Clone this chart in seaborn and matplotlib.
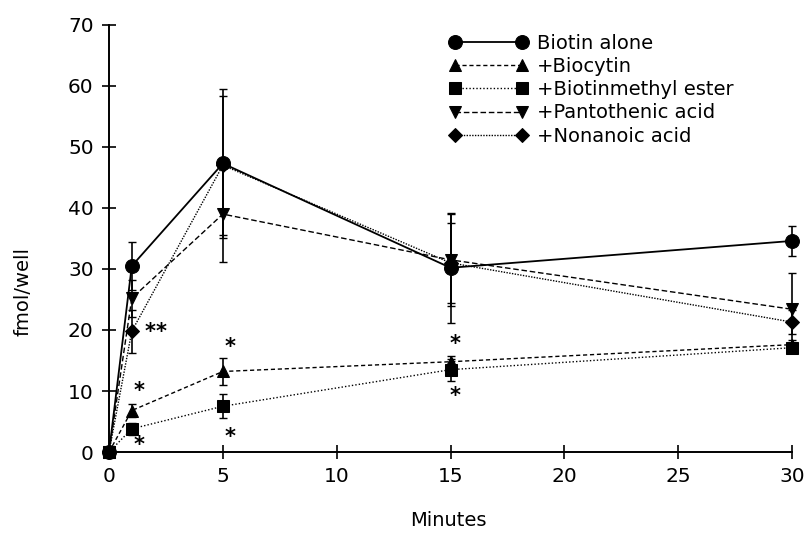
import matplotlib
matplotlib.use("Agg")
import matplotlib.pyplot as plt
import seaborn as sns
import pandas as pd

sns.set_theme(style="ticks")
plt.rcParams['font.family'] = ['DejaVu Sans']
plt.rcParams.update({"text.color": "black", "axes.labelcolor": "black",
                     "xtick.color": "black", "ytick.color": "black"})

minutes = [0, 1, 5, 15, 30]
biotin_alone = [0, 30.5, 47.3, 30.2, 34.6]
biotin_err = [0, 4.0, 12.2, 9.0, 2.5]
biocytin = [0, 6.8, 13.2, 14.8, 17.6]
biocytin_err = [0, 1.0, 2.2, 1.0, 0.8]
methyl_ester = [0, 3.8, 7.5, 13.5, 17.1]
methyl_err = [0, 1.0, 2.0, 1.8, 0.8]
pantothenic = [0, 25.2, 39.0, 31.5, 23.4]
pantothenic_err = [0, 3.0, 7.8, 7.5, 6.0]
nonanoic = [0, 19.8, 47.0, 31.0, 21.3]
nonanoic_err = [0, 3.5, 11.4, 6.5, 2.0]

labels = ["Biotin alone", "+Biocytin", "+Biotinmethyl ester",
          "+Pantothenic acid", "+Nonanoic acid"]
series = [biotin_alone, biocytin, methyl_ester, pantothenic, nonanoic]
errors = [biotin_err, biocytin_err, methyl_err, pantothenic_err, nonanoic_err]
markers = ["o", "^", "s", "v", "D"]
msizes = [10, 8, 9, 8, 7]
linestyles = ["-", (0, (3, 2)), (0, (1, 1.5)), (0, (4, 2)), (0, (1, 1))]
lws = [1.3, 1.0, 1.0, 1.0, 1.0]

asterisk_x = [1.8, 2.3, 1.3, 1.3, 5.3, 5.3, 15.2, 15.2]
asterisk_y = [19.6, 19.6, 10.0, 1.2, 17.2, 2.4, 17.7, 9.2]

fig = plt.figure(figsize=(8.07, 5.36), dpi=100)
ax = fig.add_axes([0.1351, 0.1567, 0.8463, 0.7967])

for lab, y, e, m, ms, ls, lw in zip(labels, series, errors, markers, msizes, linestyles, lws):
    df = pd.DataFrame({"Minutes": minutes, "fmol/well": y})
    eb = ax.errorbar(minutes, y, yerr=e, fmt="none", ecolor="black", elinewidth=1.2,
                     capsize=3, capthick=1.0, zorder=2)
    for art in eb.get_children():
        art.set_clip_on(False)
    sns.lineplot(data=df, x="Minutes", y="fmol/well", ax=ax, color="black",
                 marker=m, markersize=ms, linestyle=ls, linewidth=lw,
                 markeredgecolor="black", label=lab, zorder=3, clip_on=False)

for xa, ya in zip(asterisk_x, asterisk_y):
    ax.text(xa, ya, "*", fontsize=15, fontweight="bold", ha="center", va="center")

ax.set_xlim(0, 30)
ax.set_ylim(0, 70)
ax.set_xticks([0, 5, 10, 15, 20, 25, 30])
ax.set_yticks(range(0, 71, 10))
ax.tick_params(direction="inout", length=10, width=1.2, labelsize=14.5, pad=6)
for s in ["top", "right"]:
    ax.spines[s].set_visible(False)
for s in ["left", "bottom"]:
    ax.spines[s].set_linewidth(1.4)
    ax.spines[s].set_color("black")
ax.set_xlabel("Minutes", fontsize=14)
ax.set_ylabel("fmol/well", fontsize=14)
ax.xaxis.set_label_coords(0.497, -0.138)
ax.yaxis.set_label_coords(-0.112, 0.375)

leg = ax.legend(loc="upper left", bbox_to_anchor=(449 / 807, 1 - 33.6 / 536),
                bbox_transform=fig.transFigure, frameon=False, numpoints=2,
                fontsize=14, handlelength=4.05, handletextpad=0.47, labelspacing=0.22,
                borderaxespad=0, borderpad=0)

fig.savefig("out.png", dpi=100)
